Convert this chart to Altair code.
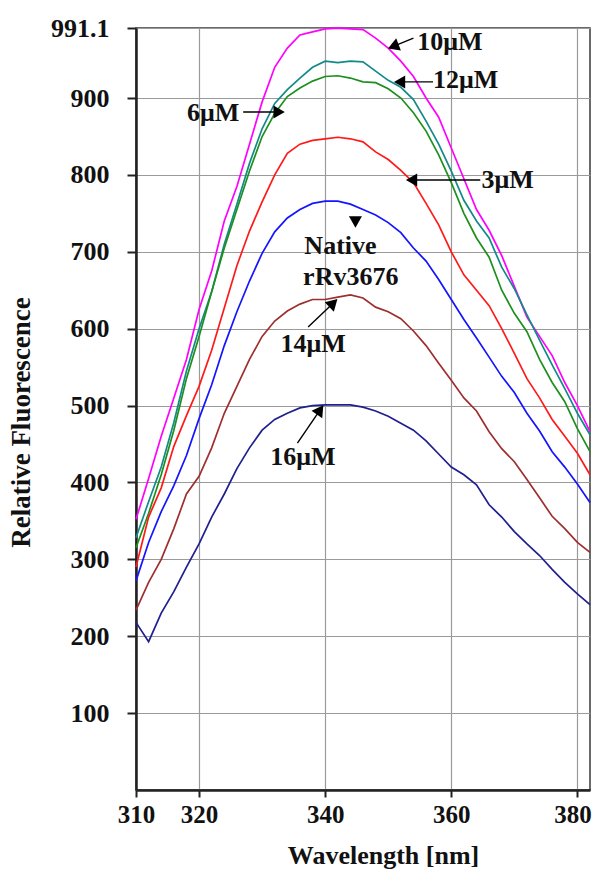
import altair as alt
import pandas as pd

# Emission wavelength grid (nm)
wavelength = list(range(310, 383, 2))

# Relative fluorescence of rRv3676 at each ligand concentration
fl_10uM = [352, 405, 460, 510, 560, 625, 675, 740, 785, 840, 895, 940, 965, 982, 986, 990, 991, 990, 989,
           978, 965, 948, 928, 900, 875, 835, 795, 755, 728, 695, 655, 615, 590, 565, 530, 500, 466]
fl_12uM = [328, 375, 420, 478, 545, 600, 648, 710, 762, 815, 860, 893, 911, 926, 940, 948, 946, 948, 947,
           935, 923, 914, 898, 870, 840, 805, 767, 740, 718, 680, 652, 618, 585, 553, 522, 490, 462]
fl_6uM = [315, 360, 410, 468, 535, 590, 648, 705, 755, 805, 850, 880, 902, 913, 922, 928, 929, 926, 921,
          920, 912, 900, 881, 857, 826, 790, 750, 718, 693, 650, 620, 596, 560, 530, 505, 470, 440]
fl_3uM = [290, 355, 393, 447, 487, 525, 572, 627, 682, 727, 765, 800, 828, 840, 845, 847, 849, 847, 843,
          830, 820, 806, 790, 763, 735, 700, 670, 650, 630, 600, 568, 535, 510, 482, 460, 438, 410]
fl_native = [272, 322, 362, 396, 435, 483, 527, 578, 622, 662, 698, 726, 744, 755, 763, 766, 766, 762, 755,
             748, 738, 725, 705, 688, 664, 638, 612, 588, 563, 538, 517, 490, 467, 440, 420, 398, 374]
fl_14uM = [234, 270, 300, 340, 385, 408, 445, 490, 525, 560, 590, 610, 623, 632, 638, 638, 641, 644, 640,
           628, 622, 613, 597, 578, 555, 533, 510, 493, 466, 444, 427, 404, 380, 356, 340, 322, 309]
fl_16uM = [218, 193, 230, 258, 290, 320, 355, 385, 418, 445, 468, 482, 490, 497, 500, 501, 501, 501, 498,
           493, 486, 477, 468, 454, 437, 420, 410, 397, 371, 355, 336, 320, 305, 287, 270, 255, 241]

series_names = ["10μM", "12μM", "6μM", "3μM", "Native rRv3676", "14μM", "16μM"]
series_values = [fl_10uM, fl_12uM, fl_6uM, fl_3uM, fl_native, fl_14uM, fl_16uM]
series_colors = ["#FF00FF", "#138A8A", "#1E8F1E", "#FF1A1A", "#1414FF", "#9E2F2F", "#1F1F8F"]

# Annotation labels (left edge of text, in data units)
label_text = ["10μM", "12μM", "3μM", "6μM", "Native", "rRv3676", "14μM", "16μM"]
label_x = [354.6, 357.1, 364.8, 318.1, 336.7, 336.5, 332.9, 331.3]
label_y = [972.7, 923.2, 793.0, 880.2, 707.0, 666.7, 580.7, 433.6]

# Arrow shafts: tail -> head, in data units
shaft_x0 = [354.0, 357.1, 364.6, 327.0, 337.3, 335.6]
shaft_y0 = [977.9, 921.0, 793.4, 881.9, 602.2, 451.3]
shaft_x1 = [350.8, 351.8, 353.7, 332.7, 341.3, 339.2]
shaft_y1 = [967.1, 921.0, 793.4, 881.9, 633.4, 494.3]

# Arrow heads: position and pointing direction (degrees clockwise from up)
head_x = [350.8, 351.8, 353.7, 332.7, 344.8, 341.3, 339.2]
head_y = [967.1, 921.0, 793.4, 881.9, 738.8, 633.4, 494.3]
head_angle = [249, 270, 270, 90, 180, 46, 35]

curves = pd.DataFrame(
    [
        {"series": name, "wavelength": w, "value": v}
        for name, vals in zip(series_names, series_values)
        for w, v in zip(wavelength, vals)
    ]
)
labels = pd.DataFrame({"text": label_text, "wavelength": label_x, "value": label_y})
shafts = pd.DataFrame({"wavelength": shaft_x0, "value": shaft_y0, "w1": shaft_x1, "v1": shaft_y1})
heads = pd.DataFrame({"wavelength": head_x, "value": head_y, "angle": head_angle})

SERIF = "'Times New Roman', 'Liberation Serif', 'DejaVu Serif', serif"
INK = "#111111"

x_scale = alt.Scale(domain=[310, 382], nice=False, zero=False)
y_scale = alt.Scale(domain=[0, 991.1], nice=False, zero=True)

x_axis = alt.Axis(
    values=[310, 320, 340, 360, 380],
    title="Wavelength [nm]",
    titleFont=SERIF, titleFontSize=26, titleFontWeight="bold", titleColor=INK,
    titleX=247, titleY=73, titleBaseline="alphabetic", titleAlign="center",
    labelFont=SERIF, labelFontSize=25, labelFontWeight="bold", labelColor=INK,
    labelPadding=5, labelFlush=False, labelOverlap=False,
    # keep the last label inside the canvas edge
    labelOffset={"condition": {"test": "datum.value == 380", "value": -5}, "value": 0},
    tickSize=7, tickWidth=2, tickColor="#222222",
    domainColor="#222222", domainWidth=2.5,
    grid=True, gridColor="#9a9a9a", gridWidth=1.2,
)
y_axis = alt.Axis(
    values=[100, 200, 300, 400, 500, 600, 700, 800, 900, 991.1],
    format=".1~f",
    title="Relative Fluorescence",
    titleFont=SERIF, titleFontSize=27, titleFontWeight="bold", titleColor=INK,
    titleAngle=270, titleX=-115, titleY=394, titleBaseline="middle", titleAlign="center",
    labelFont=SERIF, labelFontSize=26, labelFontWeight="bold", labelColor=INK,
    labelPadding=18, labelFlush=False, labelOverlap=False,
    tickSize=9, tickWidth=2, tickColor="#222222",
    domainColor="#222222", domainWidth=2.5,
    grid=True, gridColor="#9a9a9a", gridWidth=1.2,
)


def xenc(field="wavelength"):
    return alt.X(f"{field}:Q", scale=x_scale, axis=x_axis)


def yenc(field="value"):
    return alt.Y(f"{field}:Q", scale=y_scale, axis=y_axis)


lines = alt.Chart(curves).mark_line(strokeWidth=1.7).encode(
    x=xenc(),
    y=yenc(),
    color=alt.Color("series:N", scale=alt.Scale(domain=series_names, range=series_colors), legend=None),
    detail="series:N",
)

arrow_shafts = alt.Chart(shafts).mark_rule(color="#000000", strokeWidth=1.4).encode(
    x=xenc(), y=yenc(), x2=alt.X2("w1:Q"), y2=alt.Y2("v1:Q")
)

arrow_heads = alt.Chart(heads).mark_point(
    shape="triangle-up", filled=True, color="#000000", opacity=1, size=170
).encode(x=xenc(), y=yenc(), angle=alt.Angle("angle:Q", scale=None))

texts = alt.Chart(labels).mark_text(
    align="left", baseline="middle", font=SERIF, fontSize=26, fontWeight="bold", color=INK
).encode(x=xenc(), y=yenc(), text="text:N")

chart = (
    alt.layer(lines, arrow_shafts, arrow_heads, texts)
    .properties(
        width=454,
        height=762,
        autosize=alt.AutoSizeParams(type="none"),
        padding={"left": 136, "top": 28, "right": 5, "bottom": 79},
        background="#ffffff",
    )
    .configure_view(stroke="#3a3a3a", strokeWidth=1.5)
)

chart.save("out.html", embed_options={"renderer": "svg", "actions": False})
